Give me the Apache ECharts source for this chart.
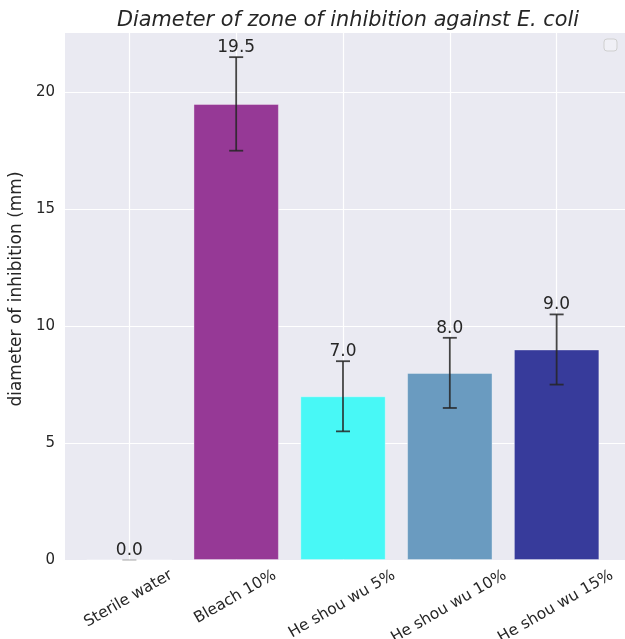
<!DOCTYPE html>
<html><head><meta charset="utf-8">
<script src="https://cdn.jsdelivr.net/npm/echarts@6/dist/echarts.min.js"></script>
<style>html,body{margin:0;padding:0;background:#fff}#c{width:625px;height:639px}</style>
</head><body><div id="c"></div>
<script>
// ---- data ----
const categories = ['Sterile water', 'Bleach 10%', 'He shou wu 5%', 'He shou wu 10%', 'He shou wu 15%'];
const values = [0, 19.5, 7, 8, 9];
const errors = [0, 2, 1.5, 1.5, 1.5];
const yTicks = [0, 5, 10, 15, 20];
const yMax = 22.575;
const barColors = ['#9a9a9a', '#963996', '#48F8F6', '#6A9BC0', '#373B9B'];
const titleText = 'Diameter of zone of inhibition against E. coli';
const yName = 'diameter of inhibition (mm)';

// ---- layout ----
const FONT = '"DejaVu Sans", "Liberation Sans", sans-serif';
const TEXT = '#262626';
const L = 61, R = 625, T = 32, B = 560;
const W = R - L;
const unit = W / 5.28;
const g2left = L + 0.64 * unit;
const g2right = 625 - (L + 4.64 * unit);

const measure = (() => {
  const ctx = document.createElement('canvas').getContext('2d');
  return (txt, size) => { ctx.font = size + 'px ' + FONT; return ctx.measureText(txt).width; };
})();

const chart = echarts.init(document.getElementById('c'), null, {renderer: 'canvas'});
const XL_SIZE = 15.5;
const ang = Math.PI / 6;

chart.setOption({
  animation: false,
  textStyle: {fontFamily: FONT},
  title: {
    text: titleText, left: (L + R) / 2, top: 5, textAlign: 'center',
    textStyle: {fontStyle: 'italic', fontWeight: 'normal', fontSize: 20.8, color: TEXT, fontFamily: FONT}
  },
  grid: [
    {left: L, right: 625 - R, top: T, bottom: 639 - B, show: true, backgroundColor: '#EAEAF2', borderWidth: 0},
    {left: g2left, right: g2right, top: T, bottom: 639 - B}
  ],
  xAxis: [
    {gridIndex: 0, type: 'value', min: 0, max: 1, show: false},
    {gridIndex: 1, type: 'value', min: 0, max: categories.length - 1, interval: 1,
     axisLine: {show: false}, axisTick: {show: false}, axisLabel: {show: false},
     splitLine: {show: true, lineStyle: {color: '#ffffff', width: 1.2}}}
  ],
  yAxis: [
    {gridIndex: 0, type: 'value', min: 0, max: yMax, interval: 5,
     axisLine: {show: false}, axisTick: {show: false},
     axisLabel: {color: TEXT, fontSize: 15, margin: 10, showMaxLabel: false, fontFamily: FONT,
                 formatter: v => yTicks.includes(v) ? String(v) : ''},
     splitLine: {show: true, lineStyle: {color: '#ffffff', width: 1.2}},
     name: yName, nameLocation: 'middle', nameGap: 34, nameRotate: 90,
     nameTextStyle: {color: TEXT, fontSize: 17, fontFamily: FONT, padding: [0, 0, 0, 14]}},
    {gridIndex: 1, type: 'value', min: 0, max: yMax, show: false, splitLine: {show: false}}
  ],
  series: [
    {
      type: 'bar', xAxisIndex: 1, yAxisIndex: 1, clip: false,
      barWidth: 0.8 * unit,
      data: values.map((v, i) => ({value: [i, v], itemStyle: {color: barColors[i], borderColor: 'rgba(255,255,255,0.35)', borderWidth: 1}})),
      z: 2
    },
    {
      type: 'custom', xAxisIndex: 1, yAxisIndex: 1, clip: false, z: 5,
      data: values.map((v, i) => [i, v, errors[i]]),
      renderItem: (params, api) => {
        const i = api.value(0), v = api.value(1), e = api.value(2);
        const top = api.coord([i, v + e]);
        const bot = api.coord([i, v - e]);
        const cap = 7;
        const ls = {stroke: e > 0 ? 'rgba(38,38,38,0.85)' : 'rgba(38,38,38,0.12)', lineWidth: 1.8};
        return {type: 'group', children: [
          {type: 'line', shape: {x1: top[0], y1: top[1], x2: bot[0], y2: bot[1]}, style: ls},
          {type: 'line', shape: {x1: top[0] - cap, y1: top[1], x2: top[0] + cap, y2: top[1]}, style: ls},
          {type: 'line', shape: {x1: bot[0] - cap, y1: bot[1], x2: bot[0] + cap, y2: bot[1]}, style: ls},
          {type: 'text', x: top[0], y: top[1] - 1, style: {text: v.toFixed(1), align: 'center', verticalAlign: 'bottom',
            fontSize: 17, fill: TEXT, fontFamily: FONT}}
        ]};
      }
    },
    {
      type: 'custom', xAxisIndex: 1, yAxisIndex: 1, clip: false, z: 5,
      data: categories.map((c, i) => [i, 0]),
      renderItem: (params, api) => {
        const i = api.value(0);
        const p = api.coord([i, 0]);
        const txt = categories[i];
        const w = measure(txt, XL_SIZE);
        const h = XL_SIZE * 0.75;
        const bh = w * Math.sin(ang) + h * Math.cos(ang);
        return {type: 'text', x: p[0] - 1, y: p[1] + 9 + bh / 2, rotation: ang,
          style: {text: txt, align: 'center', verticalAlign: 'middle', fontSize: XL_SIZE, fill: TEXT, fontFamily: FONT}};
      }
    }
  ],
  graphic: [
    {type: 'rect', shape: {x: 604, y: 39, width: 13, height: 12, r: 3},
     style: {fill: 'rgba(255,255,255,0.3)', stroke: '#cfcfcf', lineWidth: 1}, z: 10}
  ]
});
</script>
</body></html>
